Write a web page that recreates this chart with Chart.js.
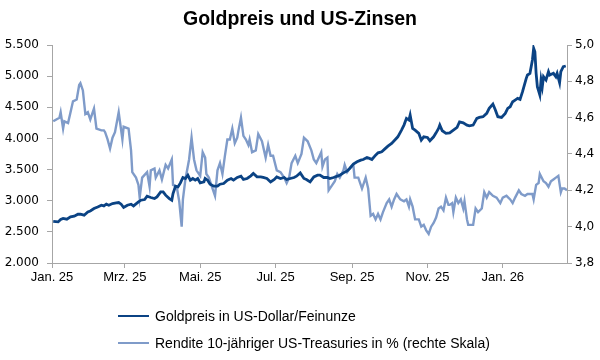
<!DOCTYPE html>
<html>
<head>
<meta charset="utf-8">
<script src="https://cdn.jsdelivr.net/npm/chart.js@4/dist/chart.umd.min.js"></script>
<style>
  html, body { margin: 0; padding: 0; background: #ffffff; }
  #wrap { position: relative; width: 600px; height: 360px; }
  .leg { position: absolute; left: 118px; font-family: "Liberation Sans", Arial, sans-serif; font-size: 14px; color: #000; white-space: nowrap; }
  .leg span.ln { display: inline-block; width: 31px; height: 0; border-top: 2.5px solid; vertical-align: middle; margin-right: 6px; position: relative; top: -1px; }
</style>
</head>
<body>
<div id="wrap">
  <canvas id="c" width="600" height="360"></canvas>
  <div class="leg" style="top:308px"><span class="ln" style="border-color:#0b4384"></span>Goldpreis in US-Dollar/Feinunze</div>
  <div class="leg" style="top:335px"><span class="ln" style="border-color:#7f9bc9"></span>Rendite 10-jähriger US-Treasuries in % (rechte Skala)</div>
</div>
<script>
// Day offsets from 1 Jan 2025
const tickDays = [0, 59, 120, 181, 243, 304, 365];
const tickLabels = ["Jan. 25", "Mrz. 25", "Mai. 25", "Jul. 25", "Sep. 25", "Nov. 25", "Jan. 26"];

const goldDays = [1,5,7,9,12,15,18,21,23,26,29,31,34,37,40,42,44,46,49,52,54,56,58,61,64,66,70,72,75,77,80,83,85,88,90,92,95,97,98,100,102,104,106,108,110,112,114,116,118,120,123,124,126,128,131,134,136,139,142,145,147,150,153,155,158,161,163,166,169,171,174,177,180,182,185,188,190,193,196,198,201,204,206,209,212,215,217,220,223,225,228,231,233,236,239,241,244,247,250,252,255,257,259,262,264,267,270,272,275,278,280,283,285,287,289,290,292,294,297,299,301,304,306,309,311,313,314,316,319,322,325,328,330,333,336,338,341,344,346,349,352,354,357,359,361,364,367,369,371,373,375,377,379,381,384,385,387,389,390,391,392,393,395,396,397,398,400,402,403,406,408,409,411,412,414,416];
const goldPrice = [2670,2660,2698,2715,2703,2740,2751,2783,2783,2767,2820,2836,2875,2900,2928,2917,2944,2928,2955,2965,2971,2944,2891,2928,2944,2917,2981,3008,3019,3072,3052,3035,3061,3142,3142,3089,3035,3008,3116,3233,3222,3286,3373,3357,3410,3330,3357,3330,3357,3286,3302,3357,3330,3265,3233,3233,3265,3276,3330,3357,3330,3373,3394,3341,3357,3400,3437,3383,3383,3373,3357,3302,3341,3383,3357,3373,3341,3357,3373,3394,3447,3357,3341,3302,3383,3410,3410,3373,3373,3357,3373,3394,3410,3447,3479,3518,3587,3624,3651,3662,3695,3679,3662,3732,3769,3785,3840,3876,3920,3984,4026,4134,4214,4322,4295,4375,4161,4134,4081,3973,4026,4016,3962,4026,4090,4161,4214,4123,4081,4090,4134,4177,4267,4251,4214,4203,4214,4322,4338,4348,4402,4483,4552,4455,4348,4338,4402,4483,4509,4589,4616,4643,4627,4750,4965,5018,5045,5259,5448,5393,5045,4830,4697,4938,4830,4991,4938,5071,5018,5045,4991,5045,4895,5071,5152,5163];

const yieldDays = [1,6,7,9,10,13,15,17,20,22,23,25,27,29,31,34,36,40,42,43,45,47,49,51,54,57,58,62,64,65,68,70,71,73,77,79,80,83,84,87,89,92,94,97,98,101,103,105,106,108,111,113,115,117,120,122,124,125,127,130,132,134,136,138,140,142,144,146,148,150,151,153,155,157,159,160,162,165,167,170,173,175,177,179,182,185,188,190,192,194,197,199,202,204,207,210,212,214,216,218,219,221,223,224,227,229,231,233,236,237,239,241,244,245,248,251,254,256,258,260,262,264,266,268,271,273,275,277,279,282,285,287,289,290,292,294,297,299,301,303,305,307,309,311,313,315,317,319,321,322,324,325,327,329,331,333,334,336,337,339,341,343,345,348,350,352,354,357,360,363,365,368,371,373,375,378,380,383,385,387,389,390,392,394,395,398,400,402,404,406,408,410,412,413,415,417];
const yieldPct = [4.58,4.60,4.63,4.54,4.58,4.57,4.63,4.69,4.70,4.78,4.79,4.75,4.62,4.63,4.59,4.65,4.54,4.53,4.53,4.52,4.48,4.43,4.49,4.52,4.63,4.48,4.55,4.54,4.42,4.30,4.27,4.23,4.16,4.27,4.30,4.22,4.31,4.32,4.27,4.31,4.26,4.34,4.32,4.37,4.23,4.22,4.14,4.00,4.15,4.26,4.37,4.49,4.37,4.31,4.28,4.41,4.38,4.29,4.27,4.21,4.17,4.31,4.35,4.29,4.39,4.48,4.48,4.54,4.46,4.49,4.53,4.60,4.50,4.48,4.45,4.48,4.41,4.42,4.51,4.47,4.38,4.45,4.39,4.39,4.31,4.30,4.27,4.24,4.27,4.35,4.39,4.35,4.40,4.49,4.47,4.42,4.37,4.35,4.38,4.41,4.33,4.37,4.38,4.20,4.23,4.25,4.29,4.27,4.31,4.34,4.30,4.32,4.34,4.27,4.27,4.21,4.27,4.21,4.06,4.07,4.04,4.07,4.04,4.08,4.13,4.15,4.11,4.15,4.18,4.15,4.14,4.15,4.11,4.15,4.11,4.04,4.04,4.00,4.01,3.98,3.96,4.00,4.02,4.05,4.10,4.11,4.09,4.16,4.12,4.12,4.13,4.08,4.16,4.13,4.15,4.10,4.14,4.04,4.01,4.01,4.01,4.10,4.08,4.10,4.19,4.16,4.19,4.17,4.16,4.13,4.16,4.17,4.15,4.13,4.16,4.20,4.18,4.17,4.18,4.18,4.18,4.15,4.23,4.24,4.29,4.25,4.24,4.22,4.25,4.26,4.27,4.28,4.19,4.21,4.21,4.20];

const leftTicks = { min: 2000, max: 5500, step: 500 };
const rightTicks = { min: 3.8, max: 5.0, step: 0.2 };

const goldColor = "#0b4384";
const yieldColor = "#7f9bc9";
const axisColor = "#a6a6a6";
const tickFont = { family: "'DejaVu Sans', sans-serif", size: 12 };

const pts = (xs, ys) => xs.map((x, i) => ({ x: x, y: ys[i] }));

new Chart(document.getElementById("c"), {
  type: "line",
  data: {
    datasets: [
      { label: "Goldpreis in US-Dollar/Feinunze", data: pts(goldDays, goldPrice), yAxisID: "y", borderColor: goldColor, borderWidth: 2.8, pointRadius: 0, tension: 0 },
      { label: "Rendite 10-jähriger US-Treasuries in % (rechte Skala)", data: pts(yieldDays, yieldPct), yAxisID: "y1", borderColor: yieldColor, borderWidth: 2.4, pointRadius: 0, tension: 0 }
    ]
  },
  options: {
    responsive: false,
    devicePixelRatio: 1,
    animation: false,
    layout: { padding: { top: 0, bottom: 72, left: 0, right: 0 } },
    plugins: {
      legend: { display: false },
      tooltip: { enabled: false },
      title: {
        display: true,
        text: "Goldpreis und US-Zinsen",
        color: "#000",
        font: { family: "'Liberation Sans', Arial, sans-serif", size: 19.5, weight: "bold" },
        padding: { top: 8, bottom: 13.6 }
      }
    },
    scales: {
      x: {
        type: "linear",
        min: 0,
        max: 417,
        afterBuildTicks: (s) => { s.ticks = tickDays.map(v => ({ value: v })); },
        afterFit: (s) => { s.height = 25; },
        ticks: {
          autoSkip: false,
          maxRotation: 0,
          color: "#000",
          font: { family: "'Liberation Sans', Arial, sans-serif", size: 13 },
          padding: 2,
          callback: (v) => { const i = tickDays.indexOf(v); return i >= 0 ? tickLabels[i] : ""; }
        },
        grid: { display: true, drawOnChartArea: false, drawTicks: true, tickLength: 5, color: axisColor },
        border: { display: true, color: axisColor, width: 1 }
      },
      y: {
        position: "left",
        min: leftTicks.min,
        max: leftTicks.max,
        afterFit: (s) => { s.width = 52; },
        ticks: {
          stepSize: leftTicks.step,
          color: "#000",
          font: tickFont,
          padding: 8,
          callback: (v) => v.toLocaleString("de-DE")
        },
        grid: { display: true, drawOnChartArea: false, drawTicks: true, tickLength: 5, color: axisColor },
        border: { display: true, color: axisColor, width: 1 }
      },
      y1: {
        position: "right",
        min: rightTicks.min,
        max: rightTicks.max,
        afterFit: (s) => { s.width = 33; },
        ticks: {
          stepSize: rightTicks.step,
          color: "#000",
          font: tickFont,
          padding: 3,
          callback: (v) => v.toFixed(1).replace(".", ",")
        },
        grid: { display: true, drawOnChartArea: false, drawTicks: true, tickLength: 5, color: axisColor },
        border: { display: true, color: axisColor, width: 1 }
      }
    }
  }
});
</script>
</body>
</html>
